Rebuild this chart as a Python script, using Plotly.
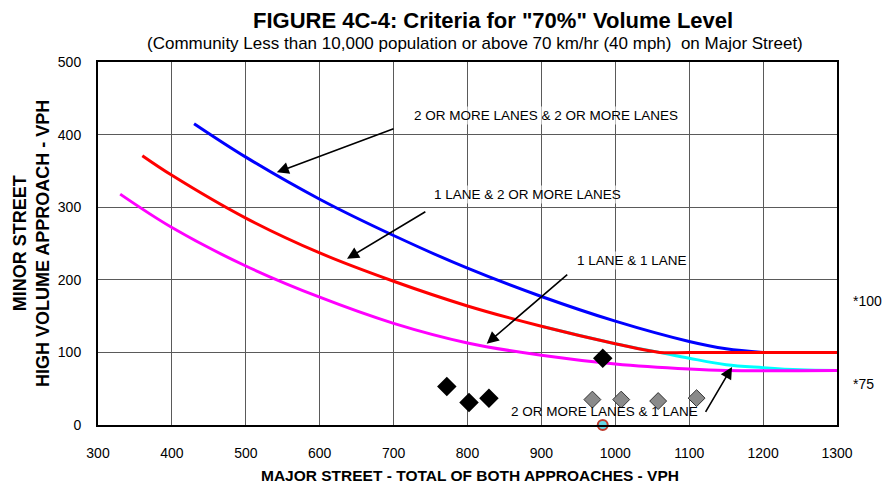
import plotly.graph_objects as go

# ---- data ----
blue_x = [430, 500, 600, 700, 800, 900, 1000, 1100, 1150, 1200]
blue_y = [415, 369, 311, 261, 216, 177, 143, 115, 105, 100]

red_x = [360, 400, 500, 600, 700, 800, 900, 1000, 1060, 1100, 1300]
red_y = [371, 344, 285, 237, 198, 164, 136, 112, 100, 100, 100]

cyan_x = [900, 1000, 1060, 1100, 1150, 1200, 1250, 1300]
cyan_y = [136, 112, 100, 92, 83, 79, 76, 75]

magenta_x = [330, 400, 500, 600, 700, 800, 900, 1000, 1100, 1150, 1300]
magenta_y = [318, 272, 219, 176, 140, 113, 96, 84, 77, 75, 75]

obs_x = [772, 802, 829, 983]
obs_y = [53, 31, 37, 92]

gray_x = [969, 1008, 1058, 1110]
gray_y = [35, 35, 33, 37]

circle_x = [983]
circle_y = [0]

x_ticks = [300, 400, 500, 600, 700, 800, 900, 1000, 1100, 1200, 1300]
y_ticks = [0, 100, 200, 300, 400, 500]

curve_labels = ["2 OR MORE LANES & 2 OR MORE LANES", "1 LANE & 2 OR MORE LANES",
                "1 LANE & 1 LANE", "2 OR MORE LANES & 1 LANE"]
label_pos = [(725, 427), (752, 317), (945, 227), (856, 18)]
label_bg = ["rgba(255,255,255,0.6)", "rgba(255,255,255,0.6)", "rgba(255,255,255,0.6)", "rgba(0,0,0,0)"]
arrow_tail = [(702, 409), (745, 295), (937, 209), (1121, 16)]
arrow_tip = [(542, 348), (637, 229), (826, 112), (1158, 80)]

fig = go.Figure()

def curve(x, y, color):
    fig.add_trace(go.Scatter(x=x, y=y, mode="lines", line=dict(color=color, width=3, shape="spline", smoothing=1.0),
                             hoverinfo="skip", showlegend=False))

curve(blue_x, blue_y, "#0000FF")
curve(cyan_x, cyan_y, "#00FFFF")
curve(red_x, red_y, "#FF0000")
curve(magenta_x, magenta_y, "#FF00FF")

fig.add_trace(go.Scatter(x=gray_x, y=gray_y, mode="markers",
                         marker=dict(symbol="diamond", size=13, color="#8a8a8a", line=dict(color="#333", width=1)),
                         showlegend=False))
fig.add_trace(go.Scatter(x=circle_x, y=circle_y, mode="markers",
                         marker=dict(symbol="circle", size=10, color="#66d9e8", line=dict(color="#c0392b", width=2)),
                         showlegend=False, cliponaxis=False))
fig.add_trace(go.Scatter(x=obs_x, y=obs_y, mode="markers",
                         marker=dict(symbol="diamond", size=15, color="black"),
                         showlegend=False))

font = "Liberation Sans, Arial, sans-serif"
narrow = "Liberation Sans Narrow, Arial Narrow, Liberation Sans, Arial, sans-serif"

ann = []
for txt, (lx, ly), bg in zip(curve_labels, label_pos, label_bg):
    ann.append(dict(x=lx, y=ly, xref="x", yref="y", text=txt, showarrow=False, xanchor="left",
                    yanchor="middle", font=dict(family=font, size=13.5, color="black"),
                    bgcolor=bg, borderpad=1))
for (tx, ty), (hx, hy) in zip(arrow_tail, arrow_tip):
    ann.append(dict(x=hx, y=hy, ax=tx, ay=ty, xref="x", yref="y", axref="x", ayref="y", text="",
                    showarrow=True, arrowhead=2, arrowsize=1.5, arrowwidth=1.6, arrowcolor="black"))

ann += [
    dict(x=0.5345, y=1.113, xref="paper", yref="paper", text='<b>FIGURE 4C-4: Criteria for "70%" Volume Level</b>',
         showarrow=False, font=dict(family=narrow, size=22, color="black"), xanchor="center", yanchor="middle"),
    dict(x=0.5095, y=1.052, xref="paper", yref="paper",
         text="(Community Less than 10,000 population or above 70 km/hr (40 mph)  on Major Street)",
         showarrow=False, font=dict(family=narrow, size=17, color="black"), xanchor="center", yanchor="middle"),
    dict(x=0.503, y=-0.14, xref="paper", yref="paper", text="<b>MAJOR STREET - TOTAL OF BOTH APPROACHES - VPH</b>",
         showarrow=False, font=dict(family=narrow, size=15.5, color="black"), xanchor="center", yanchor="middle"),
    dict(x=-0.09, y=0.5, xref="paper", yref="paper", text="<b>MINOR STREET<br>HIGH VOLUME APPROACH - VPH</b>",
         showarrow=False, textangle=-90, font=dict(family=narrow, size=18, color="black"),
         xanchor="center", yanchor="middle"),
    dict(x=1.019, y=171, xref="paper", yref="y", text="*100", showarrow=False, xanchor="left",
         font=dict(family=font, size=14, color="black")),
    dict(x=1.019, y=56, xref="paper", yref="y", text="*75", showarrow=False, xanchor="left",
         font=dict(family=font, size=14, color="black")),
]

fig.update_layout(
    width=894, height=485,
    margin=dict(l=98, r=57, t=62, b=60),
    paper_bgcolor="white", plot_bgcolor="white",
    annotations=ann, showlegend=False,
    xaxis=dict(range=[300, 1300], tickvals=x_ticks, showgrid=True, gridcolor="#5a5a5a", gridwidth=1.3,
               showline=True, linecolor="black", linewidth=2, mirror=True, zeroline=False,
               ticks="", ticklabelstandoff=14, tickfont=dict(family=font, size=14, color="black")),
    yaxis=dict(range=[0, 500], tickvals=y_ticks, showgrid=True, gridcolor="#5a5a5a", gridwidth=1.3,
               showline=True, linecolor="black", linewidth=2, mirror=True, zeroline=False,
               ticks="", ticklabelstandoff=12, tickfont=dict(family=font, size=14, color="black")),
)

fig.write_html("out.html", config={"displayModeBar": False},
               post_script="document.body.style.margin='0';document.body.style.overflow='hidden';")
